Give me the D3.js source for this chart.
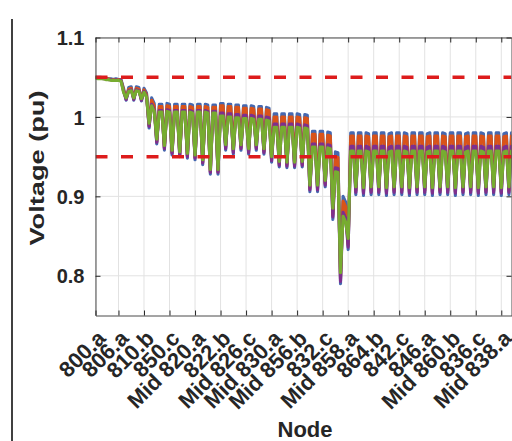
<!DOCTYPE html>
<html><head><meta charset="utf-8">
<script src="https://cdn.jsdelivr.net/npm/d3@7"></script>
<style>
body{margin:0;background:#fff}
svg{display:block}
text{font-family:"Liberation Sans",Arial,Helvetica,sans-serif;font-weight:bold;fill:#262626}
</style>
</head><body>
<svg id="c" width="512" height="441"></svg>
<script>
const nodeLabels = ["800.a","806.a","810.b","850.c","Mid 820.a","822.b","Mid 826.c","Mid 830.a","Mid 856.b","832.c","Mid 858.a","864.b","842.c","846.a","Mid 860.b","836.c","Mid 838.a"];
const tickIndex = [1,10,20,30,40,50,60,70,80,90,100,110,120,130,140,150,160];
const yTicks = [0.8,0.9,1,1.1];
const limitLines = [1.05,0.95];
const seriesColors = ["#4568b0","#D95319","#7E2F8E","#77AC30"];

const voltBlue = [1.050,1.050,1.050,1.049,1.049,1.048,1.048,1.047,1.048,1.047,1.047,1.036,
1.021,1.037,1.038, 1.021,1.038,1.037, 1.020,1.036,1.030,
0.986,1.024,1.017, 0.966,1.016,1.016, 0.958,1.017,1.016, 0.952,1.016,1.016, 0.950,1.016,1.016, 0.948,1.016,1.015, 0.946,1.016,1.016, 0.940,1.016,1.015, 0.928,1.015,1.015, 0.928,1.017,1.017,
0.958,1.016,1.016, 0.953,1.015,1.015, 0.958,1.014,1.014, 0.953,1.014,1.013, 0.958,1.013,1.013, 0.953,1.012,1.011,
0.943,1.004,1.004, 0.937,1.004,1.004, 0.936,1.004,1.004, 0.936,1.004,1.003, 0.937,1.003,1.002,
0.906,0.982,0.982, 0.906,0.982,0.982, 0.912,0.981,0.980,
0.871,0.956,0.955, 0.790,0.900,0.893, 0.833,0.980,0.980,
0.902,0.980,0.980, 0.901,0.980,0.979, 0.902,0.980,0.980, 0.902,0.980,0.980, 0.901,0.979,0.980,
0.902,0.980,0.980, 0.902,0.980,0.979, 0.901,0.980,0.980, 0.902,0.980,0.980, 0.902,0.979,0.980,
0.901,0.980,0.980, 0.902,0.980,0.979, 0.902,0.980,0.980, 0.901,0.980,0.980, 0.902,0.979,0.980,
0.902,0.980,0.980, 0.901,0.980,0.979, 0.902,0.980,0.980, 0.902,0.980,0.980, 0.901,0.979,0.980,
0.902,0.980];

const voltOrange = [1.050,1.049,1.049,1.049,1.048,1.048,1.047,1.047,1.047,1.047,1.046,1.034,
1.023,1.035,1.036, 1.023,1.036,1.035, 1.022,1.034,1.028,
0.989,1.021,1.014, 0.969,1.013,1.013, 0.961,1.014,1.013, 0.955,1.013,1.013, 0.953,1.013,1.013, 0.951,1.013,1.012, 0.949,1.013,1.013, 0.943,1.013,1.012, 0.931,1.012,1.012, 0.931,1.014,1.014,
0.962,1.013,1.013, 0.957,1.012,1.012, 0.962,1.011,1.011, 0.957,1.011,1.010, 0.962,1.010,1.010, 0.957,1.009,1.008,
0.947,1.000,1.000, 0.941,1.000,1.000, 0.940,1.000,1.000, 0.940,1.000,0.999, 0.941,0.999,0.998,
0.910,0.978,0.978, 0.910,0.978,0.978, 0.916,0.977,0.976,
0.877,0.950,0.949, 0.796,0.894,0.887, 0.839,0.976,0.976,
0.907,0.976,0.976, 0.906,0.976,0.975, 0.907,0.976,0.976, 0.907,0.976,0.976, 0.906,0.975,0.976,
0.907,0.976,0.976, 0.907,0.976,0.975, 0.906,0.976,0.976, 0.907,0.976,0.976, 0.907,0.975,0.976,
0.906,0.976,0.976, 0.907,0.976,0.975, 0.907,0.976,0.976, 0.906,0.976,0.976, 0.907,0.975,0.976,
0.907,0.976,0.976, 0.906,0.976,0.975, 0.907,0.976,0.976, 0.907,0.976,0.976, 0.906,0.975,0.976,
0.907,0.976];

const voltPurple = [1.049,1.049,1.049,1.048,1.048,1.047,1.047,1.046,1.047,1.046,1.046,1.032,
1.022,1.033,1.034, 1.022,1.034,1.033, 1.021,1.032,1.026,
0.988,1.016,1.009, 0.968,1.008,1.008, 0.960,1.009,1.008, 0.954,1.008,1.008, 0.952,1.008,1.008, 0.950,1.008,1.007, 0.948,1.008,1.008, 0.942,1.008,1.007, 0.930,1.007,1.007, 0.930,1.005,1.005,
0.960,1.004,1.004, 0.955,1.003,1.003, 0.960,1.002,1.002, 0.955,1.002,1.001, 0.960,1.001,1.001, 0.955,1.000,0.999,
0.945,0.991,0.991, 0.939,0.991,0.991, 0.938,0.991,0.991, 0.938,0.991,0.990, 0.939,0.990,0.989,
0.908,0.966,0.966, 0.908,0.966,0.966, 0.914,0.965,0.964,
0.874,0.936,0.935, 0.793,0.880,0.873, 0.836,0.963,0.963,
0.905,0.963,0.963, 0.904,0.963,0.962, 0.905,0.963,0.963, 0.905,0.963,0.963, 0.904,0.962,0.963,
0.905,0.963,0.963, 0.905,0.963,0.962, 0.904,0.963,0.963, 0.905,0.963,0.963, 0.905,0.962,0.963,
0.904,0.963,0.963, 0.905,0.963,0.962, 0.905,0.963,0.963, 0.904,0.963,0.963, 0.905,0.962,0.963,
0.905,0.963,0.963, 0.904,0.963,0.962, 0.905,0.963,0.963, 0.905,0.963,0.963, 0.904,0.962,0.963,
0.905,0.963];

const voltGreen = [1.049,1.048,1.048,1.048,1.047,1.047,1.046,1.046,1.046,1.046,1.045,1.031,
1.024,1.032,1.033, 1.024,1.033,1.032, 1.023,1.031,1.025,
0.992,1.014,1.007, 0.972,1.006,1.006, 0.964,1.007,1.006, 0.958,1.006,1.006, 0.956,1.006,1.006, 0.954,1.006,1.005, 0.952,1.006,1.006, 0.946,1.006,1.005, 0.934,1.005,1.005, 0.934,1.001,1.001,
0.965,1.000,1.000, 0.960,0.999,0.999, 0.965,0.998,0.998, 0.960,0.998,0.997, 0.965,0.997,0.997, 0.960,0.996,0.995,
0.950,0.987,0.987, 0.944,0.987,0.987, 0.943,0.987,0.987, 0.943,0.987,0.986, 0.944,0.986,0.985,
0.914,0.962,0.962, 0.914,0.962,0.962, 0.920,0.961,0.960,
0.885,0.931,0.930, 0.804,0.875,0.868, 0.847,0.957,0.957,
0.912,0.957,0.957, 0.911,0.957,0.956, 0.912,0.957,0.957, 0.912,0.957,0.957, 0.911,0.956,0.957,
0.912,0.957,0.957, 0.912,0.957,0.956, 0.911,0.957,0.957, 0.912,0.957,0.957, 0.912,0.956,0.957,
0.911,0.957,0.957, 0.912,0.957,0.956, 0.912,0.957,0.957, 0.911,0.957,0.957, 0.912,0.956,0.957,
0.912,0.957,0.957, 0.911,0.957,0.956, 0.912,0.957,0.957, 0.912,0.957,0.957, 0.911,0.956,0.957,
0.912,0.957];

const allSeries = [voltBlue, voltOrange, voltPurple, voltGreen];

const svg = d3.select("#c");
const L = 95.5, R = 511.5, T = 37.5, B = 315.5;
const x = d3.scaleLinear().domain([1,164]).range([L,R]);
const y = d3.scaleLinear().domain([0.75,1.1]).range([B,T]);

svg.append("rect").attr("width",512).attr("height",441).attr("fill","#fff");

// outer frame line on the left
svg.append("line").attr("x1",12).attr("x2",12).attr("y1",19).attr("y2",441)
  .attr("stroke","#000").attr("stroke-width",1.5);

// grid
const grid = svg.append("g").attr("stroke","#e2e2e2").attr("stroke-width",1);
grid.selectAll("line.v").data(tickIndex).join("line")
  .attr("x1",d=>x(d)).attr("x2",d=>x(d)).attr("y1",T).attr("y2",B);
grid.selectAll("line.h").data(yTicks).join("line")
  .attr("x1",L).attr("x2",R).attr("y1",d=>y(d)).attr("y2",d=>y(d));

svg.append("clipPath").attr("id","plotclip").append("rect")
  .attr("x",L).attr("y",T).attr("width",R-L).attr("height",B-T);

const line = d3.line().x((d,i)=>x(i+1)).y(d=>y(d));
const plot = svg.append("g").attr("clip-path","url(#plotclip)");
allSeries.forEach((s,k)=>{
  plot.append("path").datum(s).attr("d",line).attr("fill","none")
    .attr("stroke",seriesColors[k]).attr("stroke-width",3.1)
    .attr("stroke-linejoin","round").attr("stroke-linecap","round");
});

plot.selectAll("line.lim").data(limitLines).join("line")
  .attr("x1",L).attr("x2",R).attr("y1",d=>y(d)).attr("y2",d=>y(d))
  .attr("stroke","#dd1c1c").attr("stroke-width",3.5).attr("stroke-dasharray","12,13.5");

// axes
const axColor = "#4a4a4a";
const gl = svg.append("g").attr("transform",`translate(${L},0)`)
  .call(d3.axisLeft(y).tickValues(yTicks).tickSizeInner(-5).tickSizeOuter(0).tickPadding(11).tickFormat(d3.format("")));
gl.selectAll("text").attr("font-size",20).attr("dy","0.36em");

const gb = svg.append("g").attr("transform",`translate(0,${B})`)
  .call(d3.axisBottom(x).tickValues(tickIndex).tickSizeInner(-5).tickSizeOuter(0).tickFormat((d,i)=>nodeLabels[i]));
gb.selectAll("text").attr("font-size",22).attr("text-anchor","end")
  .attr("x",null).attr("y",null).attr("dy",null)
  .attr("transform","translate(11,24.2) rotate(-45)");

svg.append("g").attr("transform",`translate(0,${T})`)
  .call(d3.axisTop(x).tickValues(tickIndex).tickSizeInner(-5).tickSizeOuter(0).tickFormat(""));
svg.append("g").attr("transform",`translate(${R},0)`)
  .call(d3.axisRight(y).tickValues(yTicks).tickSizeInner(-5).tickSizeOuter(0).tickFormat(""));

svg.selectAll(".domain").attr("stroke",axColor);
svg.selectAll(".tick line").attr("stroke","#262626");
svg.selectAll(".tick text").attr("fill","#262626").style("font-family","'Liberation Sans',Arial,sans-serif").style("font-weight","bold");

// axis titles
svg.append("text").attr("x",305).attr("y",437).attr("text-anchor","middle")
  .attr("font-size",22).text("Node");
svg.append("text").attr("transform","translate(44,168) rotate(-90)")
  .attr("text-anchor","middle").attr("font-size",21)
  .attr("textLength",155).attr("lengthAdjust","spacingAndGlyphs").text("Voltage (pu)");
</script>
</body></html>
